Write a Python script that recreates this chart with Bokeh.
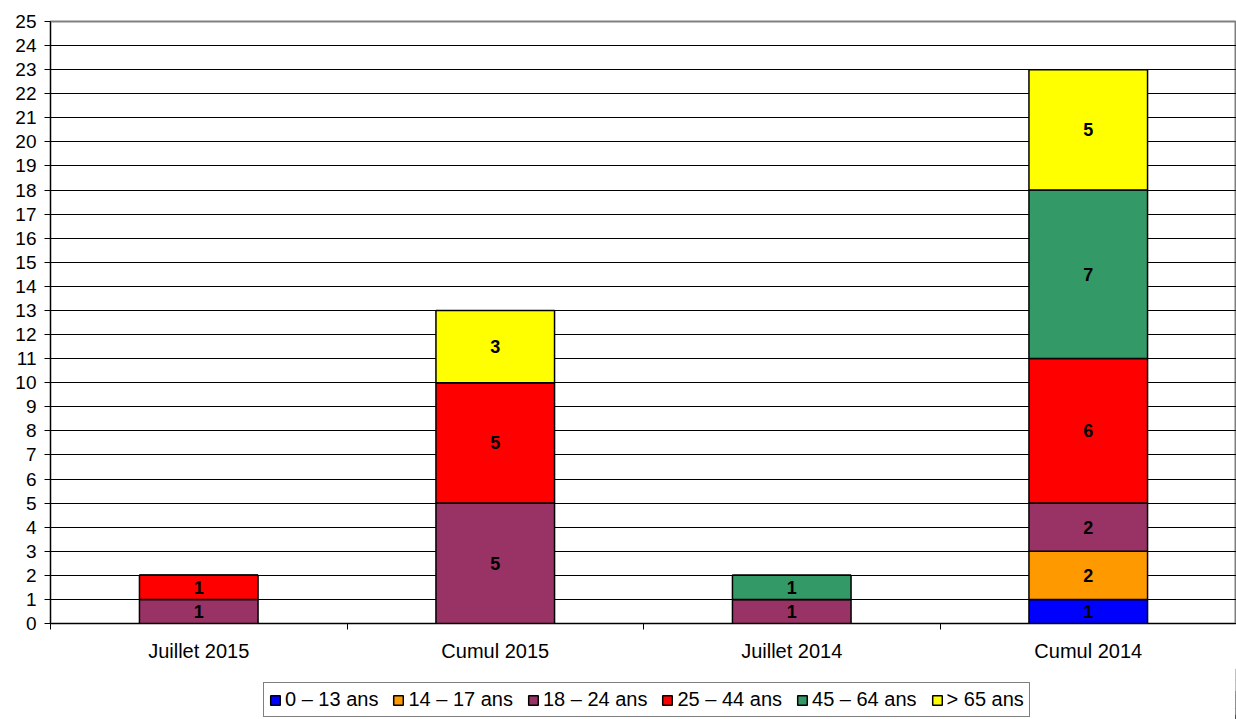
from bokeh.plotting import figure
from bokeh.layouts import column
from bokeh.models import ColumnDataSource, FixedTicker, Legend, LegendItem, Range1d, LabelSet
from bokeh.core.properties import value
from bokeh.embed import file_html
from bokeh.resources import INLINE

categories = ["Juillet 2015", "Cumul 2015", "Juillet 2014", "Cumul 2014"]
age_groups = ["0 – 13 ans", "14 – 17 ans", "18 – 24 ans", "25 – 44 ans", "45 – 64 ans", "> 65 ans"]
v_0_13 = [0, 0, 0, 1]
v_14_17 = [0, 0, 0, 2]
v_18_24 = [1, 5, 1, 2]
v_25_44 = [1, 5, 0, 6]
v_45_64 = [0, 0, 1, 7]
v_65 = [0, 3, 0, 5]
colors = ["#0000FF", "#FF9900", "#993366", "#FF0000", "#339966", "#FFFF00"]
y_ticks = list(range(0, 26))

series = [v_0_13, v_14_17, v_18_24, v_25_44, v_45_64, v_65]
keys = ["s%d" % i for i in range(len(series))]
xpos = [i + 0.5 for i in range(len(categories))]
data = {"x": xpos}
for k, s in zip(keys, series):
    data[k] = s
src = ColumnDataSource(data)

FONT = "Liberation Sans"

p = figure(width=1236, height=664, min_border_left=50, min_border_top=21,
           min_border_right=0, min_border_bottom=41, output_backend="svg", toolbar_location=None,
           x_range=Range1d(0, len(categories)), y_range=Range1d(0, 25))

renderers = p.vbar_stack(keys, x="x", width=0.4, source=src, color=colors,
                         line_color="black", line_width=1.5)

# segment labels
lx, ly, lt = [], [], []
for i, xv in enumerate(xpos):
    base = 0
    for s in series:
        v = s[i]
        if v:
            lx.append(xv)
            ly.append(base + v / 2)
            lt.append(str(v))
        base += v
lsrc = ColumnDataSource(dict(x=lx, y=ly, t=lt))
p.add_layout(LabelSet(x="x", y="y", text="t", source=lsrc, text_align="center",
                      text_baseline="middle", text_font=value(FONT), text_font_style="bold",
                      text_font_size="18px", text_color="black"))

# axes
p.yaxis.ticker = FixedTicker(ticks=y_ticks)
p.yaxis.major_label_text_font = FONT
p.yaxis.major_label_text_font_size = "19px"
p.yaxis.major_label_text_color = "black"
p.yaxis.major_tick_out = 6
p.yaxis.major_tick_in = 0
p.yaxis.minor_tick_out = 0
p.yaxis.axis_line_color = "black"
p.yaxis.major_tick_line_color = "black"
p.yaxis.major_label_standoff = 8

p.xaxis.ticker = FixedTicker(ticks=xpos, minor_ticks=list(range(len(categories) + 1)))
p.xaxis.major_label_overrides = {x: c for x, c in zip(xpos, categories)}
p.xaxis.major_label_text_font = FONT
p.xaxis.major_label_text_font_size = "20px"
p.xaxis.major_label_text_color = "black"
p.xaxis.major_tick_out = 0
p.xaxis.major_tick_in = 0
p.xaxis.minor_tick_out = 6
p.xaxis.minor_tick_in = 0
p.xaxis.minor_tick_line_color = "black"
p.xaxis.axis_line_color = "black"
p.xaxis.major_label_standoff = 10

p.xgrid.grid_line_color = None
p.ygrid.grid_line_color = "black"
p.ygrid.grid_line_width = 1
p.outline_line_color = "#808080"
p.outline_line_width = 2

# legend strip: a second figure whose stacked bars lie outside its view range
p2 = figure(width=1236, height=55, min_border_left=0, min_border_top=0,
            min_border_right=0, min_border_bottom=0, output_backend="svg", toolbar_location=None,
            x_range=Range1d(-100 - len(categories), -100), y_range=Range1d(0, 25))
p2.axis.visible = False
p2.grid.grid_line_color = None
p2.outline_line_color = None
leg_renderers = p2.vbar_stack(keys, x="x", width=0.4, source=src, color=colors,
                              line_color="black", line_width=1.5)

legend = Legend(items=[LegendItem(label=g, renderers=[r]) for g, r in zip(age_groups, leg_renderers)],
                orientation="horizontal", location=(213, 2),
                label_text_font=FONT, label_text_font_size="20px", label_text_color="black",
                glyph_width=12, glyph_height=12, label_standoff=4, spacing=14,
                padding=5, margin=0, border_line_color="black", border_line_width=1,
                label_height=19, label_text_baseline="middle", background_fill_alpha=1)
p2.add_layout(legend, "center")

layout = column(p, p2, spacing=0)
open("out.html", "w").write(file_html(layout, INLINE))
